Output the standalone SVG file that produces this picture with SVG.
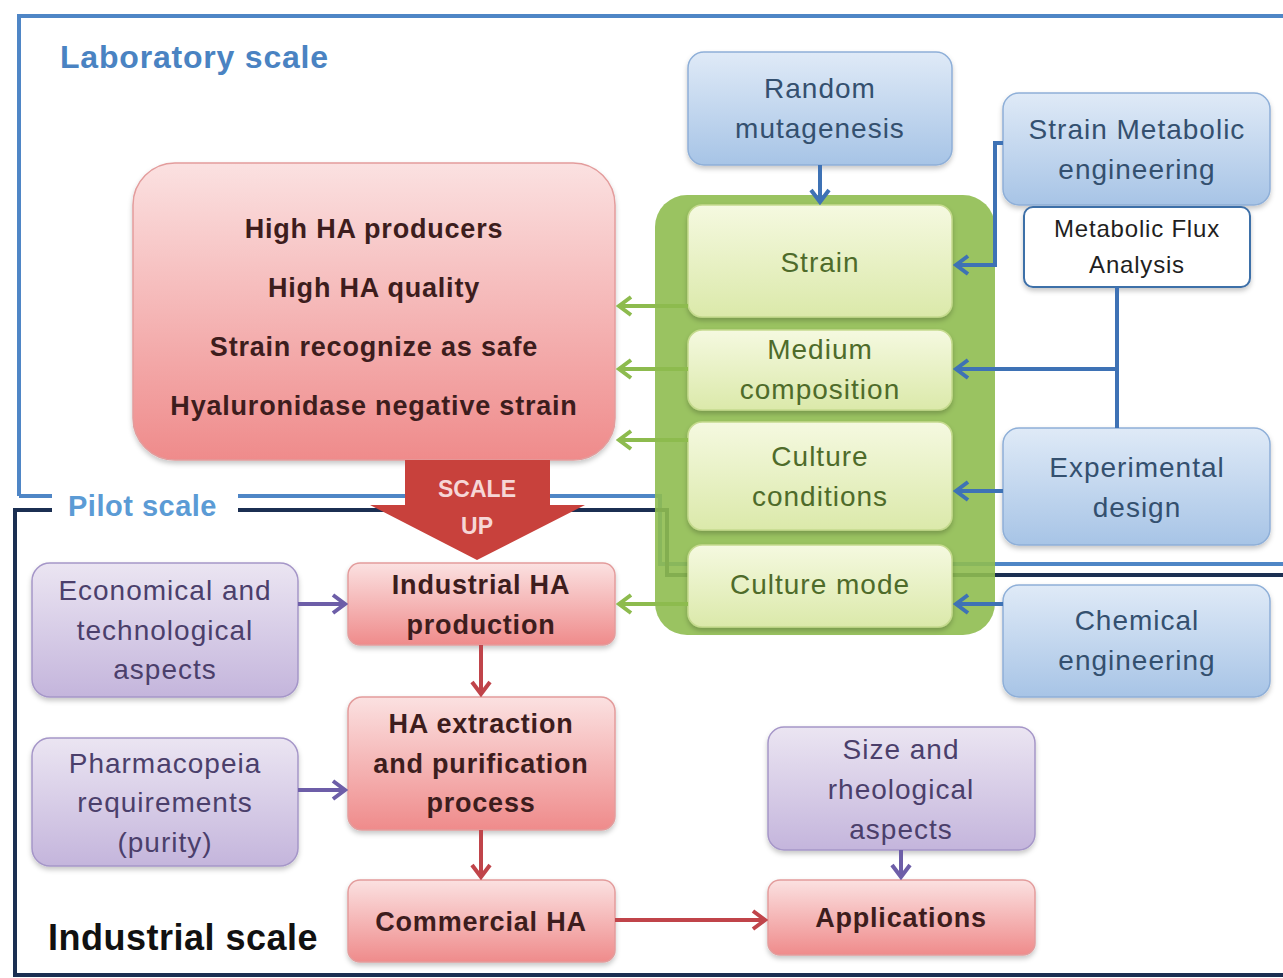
<svg xmlns="http://www.w3.org/2000/svg" width="1283" height="978" viewBox="0 0 1283 978">
<defs>
<linearGradient id="gBlue" x1="0" y1="0" x2="0" y2="1"><stop offset="0" stop-color="#dfeaf7"/><stop offset="1" stop-color="#a7c4e6"/></linearGradient>
<linearGradient id="gPurple" x1="0" y1="0" x2="0" y2="1"><stop offset="0" stop-color="#ebe5f2"/><stop offset="1" stop-color="#c4b5dc"/></linearGradient>
<linearGradient id="gRed" x1="0" y1="0" x2="0" y2="1"><stop offset="0" stop-color="#fbe1e1"/><stop offset="1" stop-color="#ef8b8b"/></linearGradient>
<linearGradient id="gGreen" x1="0" y1="0" x2="0" y2="1"><stop offset="0" stop-color="#f5f9e0"/><stop offset="1" stop-color="#dbe9aa"/></linearGradient>
<filter id="sh" x="-10%" y="-10%" width="120%" height="130%"><feDropShadow dx="0" dy="3" stdDeviation="2.5" flood-color="#000" flood-opacity="0.22"/></filter>
<marker id="aBlue" viewBox="0 0 18 22" refX="15" refY="11" markerWidth="18" markerHeight="22" markerUnits="userSpaceOnUse" orient="auto"><path d="M3,2 L15,11 L3,20" fill="none" stroke="#3e72b5" stroke-width="4"/></marker>
<marker id="aGreen" viewBox="0 0 18 22" refX="15" refY="11" markerWidth="18" markerHeight="22" markerUnits="userSpaceOnUse" orient="auto"><path d="M3,2 L15,11 L3,20" fill="none" stroke="#8dbb4e" stroke-width="4"/></marker>
<marker id="aRed" viewBox="0 0 18 22" refX="15" refY="11" markerWidth="18" markerHeight="22" markerUnits="userSpaceOnUse" orient="auto"><path d="M3,2 L15,11 L3,20" fill="none" stroke="#c0444a" stroke-width="4"/></marker>
<marker id="aPurple" viewBox="0 0 18 22" refX="15" refY="11" markerWidth="18" markerHeight="22" markerUnits="userSpaceOnUse" orient="auto"><path d="M3,2 L15,11 L3,20" fill="none" stroke="#6d5ea8" stroke-width="4"/></marker>
</defs>
<style>
text{font-family:"Liberation Sans",Arial,sans-serif;text-anchor:middle}
.blue rect{fill:url(#gBlue);stroke:#8eafd8;stroke-width:1.5;filter:url(#sh)}
.blue text{fill:#34506f;font-size:28px;letter-spacing:1px}
.purple rect{fill:url(#gPurple);stroke:#a596c8;stroke-width:1.5;filter:url(#sh)}
.purple text{fill:#4b3f6b;font-size:28px;letter-spacing:1px}
.red rect{fill:url(#gRed);stroke:#e39c9c;stroke-width:1.5;filter:url(#sh)}
.red text{fill:#3d1d1d;font-size:27px;font-weight:bold;letter-spacing:0.8px}
.green rect{fill:url(#gGreen);stroke:#c5da8e;stroke-width:1.5;filter:url(#sh)}
.green text{fill:#4e6b2a;font-size:28px;letter-spacing:1px}
.ln{fill:none;stroke-width:4}
</style>

<g id="frames">
<path d="M19,496 L19,16 L1283,16" fill="none" stroke="#4f86c6" stroke-width="4"/>
<path d="M19,496 L660,496 L660,564 L1283,564" fill="none" stroke="#4f86c6" stroke-width="4"/>
<path d="M1283,575 L667,575 L667,510 L15,510 L15,975 L1283,975" fill="none" stroke="#1b2f52" stroke-width="4"/>
<rect x="52" y="484" width="186" height="40" fill="#ffffff"/>
</g>

<g id="labels">
<text x="60" y="68" style="text-anchor:start;font-size:32px;font-weight:bold;fill:#4a83c2;letter-spacing:0.8px">Laboratory scale</text>
<text x="68" y="516" style="text-anchor:start;font-size:29px;font-weight:bold;fill:#5b9bd5;letter-spacing:0.5px">Pilot scale</text>
<text x="48" y="950" style="text-anchor:start;font-size:36px;font-weight:bold;fill:#111111;letter-spacing:0.5px">Industrial scale</text>
</g>

<g id="green-container">
<rect x="655" y="195" width="340" height="440" rx="32" fill="#8fbc50" fill-opacity="0.9"/>
</g>

<g id="strain" class="green"><rect x="688" y="205" width="264" height="112" rx="14"/><text x="820" y="272">Strain</text></g>
<g id="medium" class="green"><rect x="688" y="330" width="264" height="80" rx="14"/><text x="820" y="359">Medium</text><text x="820" y="399">composition</text></g>
<g id="conditions" class="green"><rect x="688" y="422" width="264" height="108" rx="14"/><text x="820" y="466">Culture</text><text x="820" y="506">conditions</text></g>
<g id="mode" class="green"><rect x="688" y="545" width="264" height="82" rx="14"/><text x="820" y="594">Culture mode</text></g>

<g id="goals" class="red">
<rect x="133" y="163" width="482" height="297" rx="42"/>
<text x="374" y="238">High HA producers</text>
<text x="374" y="297">High HA quality</text>
<text x="374" y="356">Strain recognize as safe</text>
<text x="374" y="415">Hyaluronidase negative strain</text>
</g>

<g id="scale-up">
<path d="M405,460 L550,460 L550,505 L585,505 L477,560 L370,505 L405,505 Z" fill="#c8413c"/>
<text x="477" y="497" style="font-size:23px;font-weight:bold;fill:#f6d6d6">SCALE</text>
<text x="477" y="534" style="font-size:23px;font-weight:bold;fill:#f6d6d6">UP</text>
</g>

<g id="random" class="blue"><rect x="688" y="52" width="264" height="113" rx="16"/><text x="820" y="98">Random</text><text x="820" y="138">mutagenesis</text></g>
<g id="sme" class="blue"><rect x="1003" y="93" width="267" height="112" rx="16"/><text x="1137" y="139">Strain Metabolic</text><text x="1137" y="179">engineering</text></g>
<g id="mfa"><rect x="1024" y="207" width="226" height="80" rx="9" fill="#ffffff" stroke="#3e6fa8" stroke-width="2" filter="url(#sh)"/><text x="1137" y="237" style="font-size:24px;fill:#1f1f1f;letter-spacing:0.8px">Metabolic Flux</text><text x="1137" y="273" style="font-size:24px;fill:#1f1f1f;letter-spacing:0.8px">Analysis</text></g>
<g id="expdesign" class="blue"><rect x="1003" y="428" width="267" height="117" rx="16"/><text x="1137" y="477">Experimental</text><text x="1137" y="517">design</text></g>
<g id="chemeng" class="blue"><rect x="1003" y="585" width="267" height="112" rx="16"/><text x="1137" y="630">Chemical</text><text x="1137" y="670">engineering</text></g>

<g id="econ" class="purple"><rect x="32" y="563" width="266" height="134" rx="18"/><text x="165" y="600">Economical and</text><text x="165" y="640">technological</text><text x="165" y="679">aspects</text></g>
<g id="pharma" class="purple"><rect x="32" y="738" width="266" height="128" rx="18"/><text x="165" y="773">Pharmacopeia</text><text x="165" y="812">requirements</text><text x="165" y="852">(purity)</text></g>
<g id="size" class="purple"><rect x="768" y="727" width="267" height="123" rx="16"/><text x="901" y="759">Size and</text><text x="901" y="799">rheological</text><text x="901" y="839">aspects</text></g>

<g id="industrial" class="red"><rect x="348" y="563" width="267" height="82" rx="12"/><text x="481" y="594">Industrial HA</text><text x="481" y="634">production</text></g>
<g id="extraction" class="red"><rect x="348" y="697" width="267" height="133" rx="14"/><text x="481" y="733">HA extraction</text><text x="481" y="773">and purification</text><text x="481" y="812">process</text></g>
<g id="commercial" class="red"><rect x="348" y="880" width="267" height="82" rx="12"/><text x="481" y="931">Commercial HA</text></g>
<g id="applications" class="red"><rect x="768" y="880" width="267" height="75" rx="12"/><text x="901" y="927">Applications</text></g>

<g id="connectors">
<path class="ln" d="M820,165 L820,202" stroke="#3e72b5" marker-end="url(#aBlue)"/>
<path class="ln" d="M1003,143 L995,143 L995,265 L956,265" stroke="#3e72b5" marker-end="url(#aBlue)"/>
<path class="ln" d="M1117,287 L1117,428" stroke="#3e72b5"/>
<path class="ln" d="M1117,369 L956,369" stroke="#3e72b5" marker-end="url(#aBlue)"/>
<path class="ln" d="M1003,491 L956,491" stroke="#3e72b5" marker-end="url(#aBlue)"/>
<path class="ln" d="M1003,604 L956,604" stroke="#3e72b5" marker-end="url(#aBlue)"/>
<path class="ln" d="M688,306 L619,306" stroke="#8dbb4e" marker-end="url(#aGreen)"/>
<path class="ln" d="M688,369 L619,369" stroke="#8dbb4e" marker-end="url(#aGreen)"/>
<path class="ln" d="M688,440 L619,440" stroke="#8dbb4e" marker-end="url(#aGreen)"/>
<path class="ln" d="M688,604 L619,604" stroke="#8dbb4e" marker-end="url(#aGreen)"/>
<path class="ln" d="M298,604 L345,604" stroke="#6d5ea8" marker-end="url(#aPurple)"/>
<path class="ln" d="M298,790 L345,790" stroke="#6d5ea8" marker-end="url(#aPurple)"/>
<path class="ln" d="M901,850 L901,877" stroke="#6d5ea8" marker-end="url(#aPurple)"/>
<path class="ln" d="M481,645 L481,694" stroke="#c0444a" marker-end="url(#aRed)"/>
<path class="ln" d="M481,830 L481,877" stroke="#c0444a" marker-end="url(#aRed)"/>
<path class="ln" d="M615,920 L765,920" stroke="#c0444a" marker-end="url(#aRed)"/>
</g>
</svg>
